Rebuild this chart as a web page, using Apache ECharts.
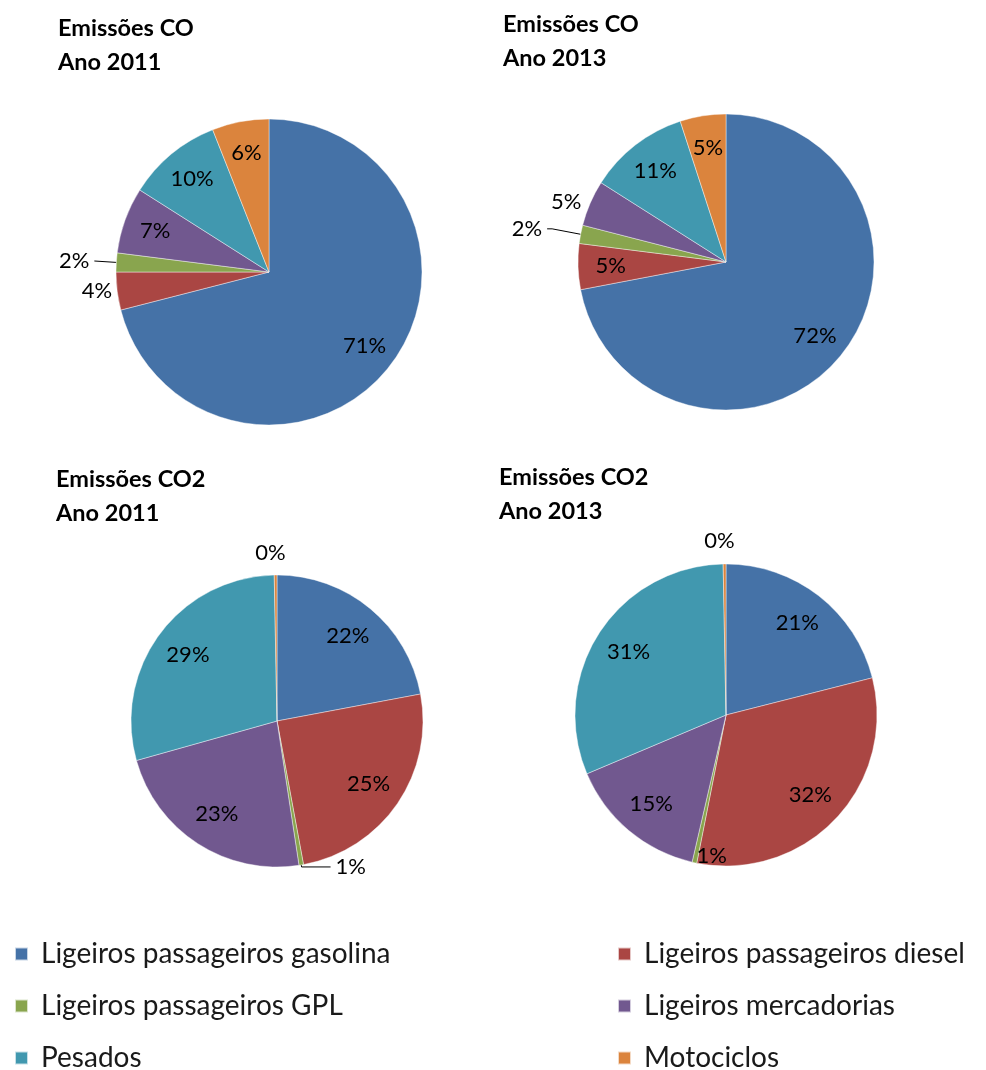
<!DOCTYPE html>
<html>
<head>
<meta charset="utf-8">
<title>Emissões CO e CO2</title>
<script src="https://cdn.jsdelivr.net/npm/echarts@6/dist/echarts.min.js"></script>
<style>
  html, body { margin: 0; padding: 0; background: #fff; }
  #chart { width: 986px; height: 1070px; }
</style>
</head>
<body>
<div id="chart"></div>
<script>
// Shares (%) per vehicle class (clockwise from 12 o'clock)
const categories = [
  "Ligeiros passageiros gasolina",
  "Ligeiros passageiros diesel",
  "Ligeiros passageiros GPL",
  "Ligeiros mercadorias",
  "Pesados",
  "Motociclos"
]
const co2011 = [71, 4, 2, 7, 10, 6]
const co2013 = [72, 5, 2, 5, 11, 5]
const co2_2011 = [22, 25, 0.5, 23, 29, 0.3]
const co2_2013 = [21, 32, 0.5, 15, 31, 0.3]
const titles = ["Emissões CO\nAno 2011", "Emissões CO\nAno 2013", "Emissões CO2\nAno 2011", "Emissões CO2\nAno 2013"]

const palette = ["#4572A7", "#AA4643", "#89A54E", "#71588F", "#4198AF", "#DB843D"]
const FONT = "Lato, 'Open Sans', sans-serif"

// layout of each pie; `outside` holds the small slices whose label sits outside
const panels = [
  { values: co2011, title: titles[0], titlePos: [58, 11], center: [269, 272], r: 153, labelR: 0.79,
    outside: { 1: { len: 0, len2: 0 }, 2: { len: 22, len2: 0, line: true } } },
  { values: co2013, title: titles[1], titlePos: [503, 7], center: [726, 262], r: 148, labelR: 0.78,
    outside: { 2: { len: 29, len2: 5, line: true }, 3: { len: 4, len2: 0 } } },
  { values: co2_2011, title: titles[2], titlePos: [56, 462], center: [277, 721], r: 146, labelR: 0.76,
    outside: { 2: { len: 2, len2: 29, line: true }, 5: { len: 22, len2: 0, center: true } } },
  { values: co2_2013, title: titles[3], titlePos: [499, 460], center: [726, 715], r: 151, labelR: 0.77,
    outside: { 5: { len: 23, len2: 0, center: true } },
    nudge: { 2: { dx: 10, dy: 27 } } }
]

const chart = echarts.init(document.getElementById("chart"), null, { renderer: "canvas" })

const series = []
panels.forEach((p) => {
  // solid pie, no labels
  series.push({
    type: "pie",
    center: p.center,
    radius: p.r,
    startAngle: 90,
    clockwise: true,
    silent: true,
    animation: false,
    label: { show: false },
    labelLine: { show: false },
    itemStyle: { borderColor: "rgba(255,255,255,0.7)", borderWidth: 0.6 },
    data: categories.map((name, i) => ({ name, value: p.values[i] }))
  })

  // transparent ring on top that only carries the labels (puts them at ~0.77r)
  const r0 = 2 * (p.labelR * p.r - 3) - p.r
  const outside = p.outside || {}
  const nudge = p.nudge || {}
  series.push({
    type: "pie",
    center: p.center,
    radius: [r0, p.r],
    startAngle: 90,
    clockwise: true,
    silent: true,
    animation: false,
    avoidLabelOverlap: false,
    itemStyle: { color: "transparent", borderWidth: 0 },
    label: {
      show: true,
      position: "inside",
      color: "#000",
      fontFamily: FONT,
      fontSize: 22,
      textBorderWidth: 0,
      formatter: (d) => Math.round(d.value) + "%"
    },
    labelLine: { show: false },
    labelLayout: (params) => {
      const o = outside[params.dataIndex]
      const n = nudge[params.dataIndex]
      if (o && o.center) return { align: "center" }
      if (n) return { dx: n.dx, dy: n.dy }
      return {}
    },
    data: categories.map((name, i) => {
      const item = { name, value: p.values[i] }
      const o = outside[i]
      if (o) {
        item.label = { position: "outside", distanceToLabelLine: 5 }
        item.labelLine = {
          show: !!o.line,
          length: o.len,
          length2: o.len2,
          smooth: false,
          lineStyle: { color: "#000", width: 1 }
        }
      }
      return item
    })
  })
})

const legendBase = {
  orient: "vertical",
  icon: "rect",
  itemWidth: 13,
  itemHeight: 13,
  itemGap: 24,
  height: 160,
  padding: 0,
  selectedMode: false,
  textStyle: { fontFamily: FONT, fontSize: 28, color: "#1a1a1a", lineHeight: 28, padding: [0, 0, 0, 8] }
}

chart.setOption({
  backgroundColor: "#fff",
  color: palette,
  title: panels.map((p) => ({
    text: p.title,
    left: p.titlePos[0],
    top: p.titlePos[1],
    padding: 0,
    textStyle: { fontFamily: FONT, fontWeight: "bold", fontSize: 23.5, lineHeight: 34, color: "#000" }
  })),
  legend: [
    Object.assign({}, legendBase, { left: 14, top: 940, data: [categories[0], categories[2], categories[4]] }),
    Object.assign({}, legendBase, { left: 617, top: 940, data: [categories[1], categories[3], categories[5]] })
  ],
  tooltip: { show: false },
  series
})
</script>
</body>
</html>
